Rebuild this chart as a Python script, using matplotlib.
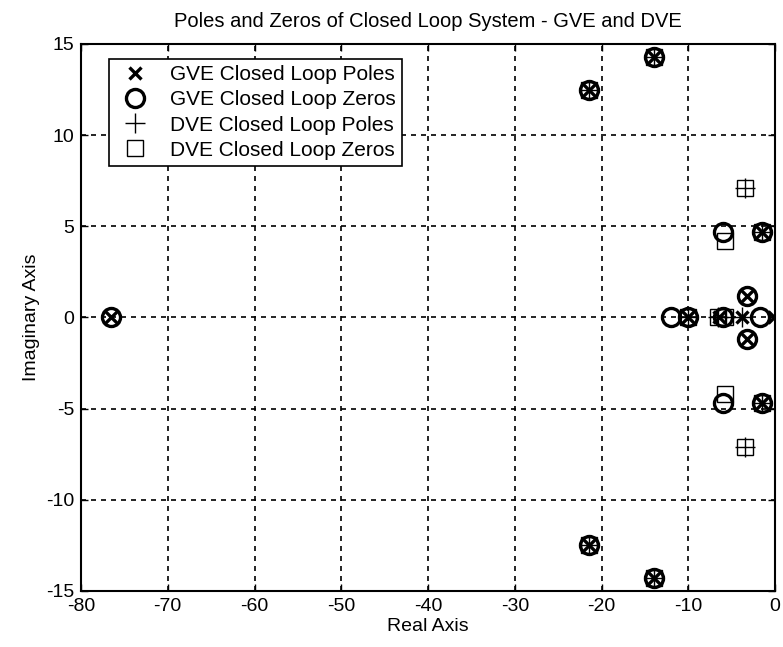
import numpy as np
import matplotlib
matplotlib.use("Agg")
import matplotlib.pyplot as plt

plt.rcParams['font.family'] = ['Liberation Sans', 'DejaVu Sans']
plt.rcParams['axes.unicode_minus'] = False

# GVE closed loop poles
gve_pole_re = [-76.5, -21.5, -21.5, -14.0, -14.0, -10.0, -6.5, -3.8, -3.2, -3.2, -1.5, -1.5, -0.1]
gve_pole_im = [0.0, 12.5, -12.5, 14.3, -14.3, 0.0, 0.0, 0.0, 1.2, -1.2, 4.7, -4.7, 0.0]
# GVE closed loop zeros
gve_zero_re = [-76.5, -21.5, -21.5, -14.0, -14.0, -12.0, -10.0, -6.0, -6.0, -6.0, -3.2, -3.2, -1.7, -1.5, -1.5]
gve_zero_im = [0.0, 12.5, -12.5, 14.3, -14.3, 0.0, 0.0, 0.0, 4.7, -4.7, 1.2, -1.2, 0.0, 4.7, -4.7]
# DVE closed loop poles
dve_pole_re = [-21.5, -21.5, -14.0, -14.0, -10.0, -6.6, -5.8, -3.8, -3.5, -3.5, -1.5, -1.5]
dve_pole_im = [12.5, -12.5, 14.3, -14.3, 0.0, 0.0, 0.0, 0.0, 7.1, -7.1, 4.7, -4.7]
# DVE closed loop zeros
dve_zero_re = [-21.5, -21.5, -14.0, -14.0, -10.0, -6.6, -5.8, -5.8, -5.8, -3.5, -3.5, -1.5, -1.5]
dve_zero_im = [12.5, -12.5, 14.3, -14.3, 0.0, 0.0, 0.0, 4.2, -4.2, 7.1, -7.1, 4.7, -4.7]

labels = ['GVE Closed Loop Poles', 'GVE Closed Loop Zeros',
          'DVE Closed Loop Poles', 'DVE Closed Loop Zeros']

xticks = [-80, -70, -60, -50, -40, -30, -20, -10, 0]
yticks = [-15, -10, -5, 0, 5, 10, 15]

fig = plt.figure(figsize=(7.83, 6.47), dpi=100)
ax = fig.add_axes([0.1034, 0.0866, 0.8866, 0.8454])

ax.plot(gve_pole_re, gve_pole_im, linestyle='none', marker='x', color='k',
        markersize=9, markeredgewidth=2.4, label=labels[0])
ax.plot(gve_zero_re, gve_zero_im, linestyle='none', marker='o', color='k',
        markerfacecolor='none', markersize=13, markeredgewidth=2.4, label=labels[1])
ax.plot(dve_pole_re, dve_pole_im, linestyle='none', marker='+', color='k',
        markersize=14, markeredgewidth=1.0, label=labels[2])
ax.plot(dve_zero_re, dve_zero_im, linestyle='none', marker='s', color='k',
        markerfacecolor='none', markersize=11, markeredgewidth=1.0, label=labels[3])

ax.set_xlim(-80, 0)
ax.set_ylim(-15, 15)
ax.set_xticks(xticks)
ax.set_yticks(yticks)
ax.tick_params(direction='in', top=True, right=True, length=5, labelsize=14, width=1, pad=5)
ax.grid(True, color='k', linestyle=(0, (3, 3)), linewidth=1.2)
for s in ax.spines.values():
    s.set_linewidth(1.5)

ax.set_title('Poles and Zeros of Closed Loop System - GVE and DVE', fontsize=14.5, pad=12)
ax.set_xlabel('Real Axis', fontsize=14, labelpad=2)
ax.set_ylabel('Imaginary Axis', fontsize=14, labelpad=4)

leg = ax.legend(loc='upper left', bbox_to_anchor=(0.04, 0.973), fontsize=15,
                frameon=True, fancybox=False, edgecolor='k', framealpha=1,
                handlelength=1.9, handletextpad=0.75, borderpad=0.3, labelspacing=0.3,
                borderaxespad=0.0)
leg.get_frame().set_linewidth(1.2)

fig.savefig('out.png', dpi=100)
